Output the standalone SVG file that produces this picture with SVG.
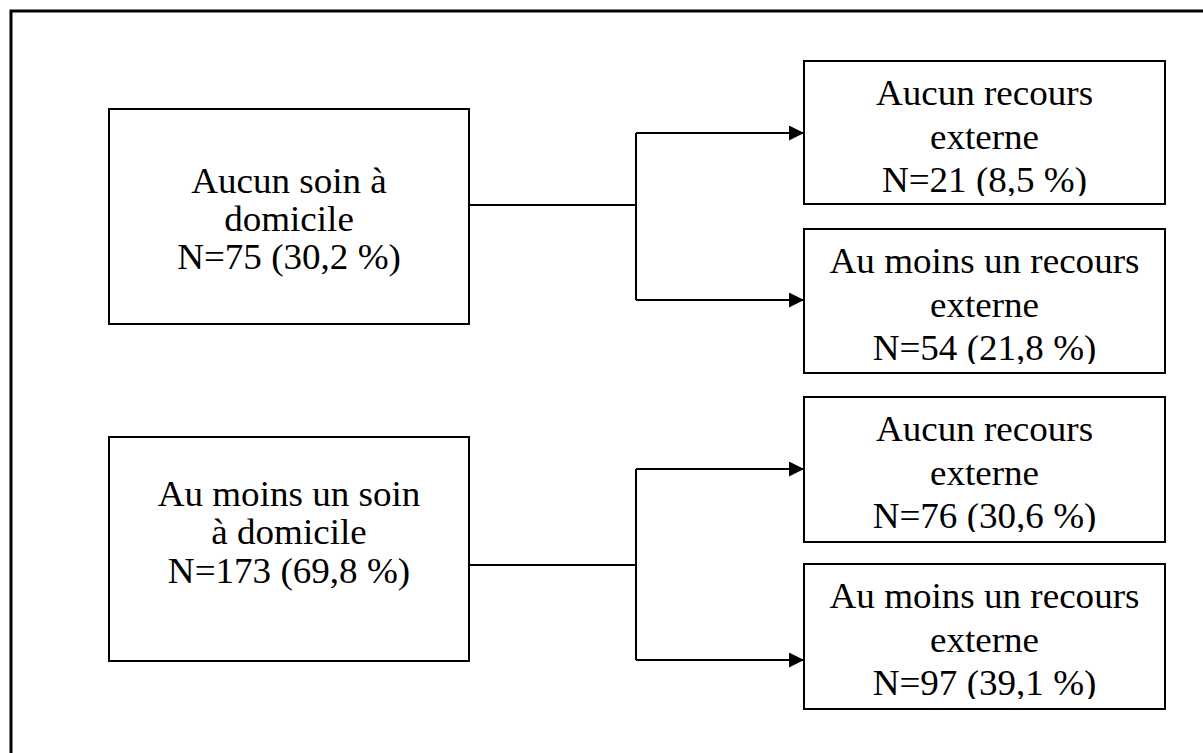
<svg xmlns="http://www.w3.org/2000/svg" width="1203" height="753" viewBox="0 0 1203 753">
<defs>
<style>
.box{fill:#fff;stroke:#000;stroke-width:2}
.t{font-family:"Liberation Serif","Times New Roman",serif;font-size:36px;fill:#000;text-anchor:middle}
.c{fill:none;stroke:#000;stroke-width:2}
</style>
<marker id="ah" markerWidth="15" markerHeight="15" refX="15" refY="7.5" orient="auto" markerUnits="userSpaceOnUse">
<path d="M0,0 L15,7.5 L0,15 Z" fill="#000"/>
</marker>
<clipPath id="k3"><rect x="804" y="61" width="361" height="135"/></clipPath>
<clipPath id="k4"><rect x="804" y="229" width="361" height="135"/></clipPath>
<clipPath id="k5"><rect x="804" y="397" width="361" height="135"/></clipPath>
<clipPath id="k6"><rect x="804" y="564" width="361" height="135"/></clipPath>
</defs>
<rect width="1203" height="753" fill="#fff"/>
<path d="M11,753 L11,11 L1203,11" fill="none" stroke="#000" stroke-width="3"/>
<g id="connectors">
<path class="c" d="M469,205 L636,205"/>
<path class="c" d="M636,133 L636,300"/>
<path class="c" d="M636,133 L804,133" marker-end="url(#ah)"/>
<path class="c" d="M636,300 L804,300" marker-end="url(#ah)"/>
<path class="c" d="M469,565 L636,565"/>
<path class="c" d="M636,469 L636,660"/>
<path class="c" d="M636,469 L804,469" marker-end="url(#ah)"/>
<path class="c" d="M636,660 L804,660" marker-end="url(#ah)"/>
</g>
<g id="n1">
<rect class="box" x="109" y="109" width="360" height="215"/>
<text class="t" transform="translate(289,193) scale(1.03,1)">Aucun soin à</text>
<text class="t" transform="translate(289,231) scale(1.03,1)">domicile</text>
<text class="t" transform="translate(289,269) scale(1.03,1)">N=75 (30,2 %)</text>
</g>
<g id="n2">
<rect class="box" x="109" y="437" width="360" height="224"/>
<text class="t" transform="translate(289,506) scale(1.03,1)">Au moins un soin</text>
<text class="t" transform="translate(289,544) scale(1.03,1)">à domicile</text>
<text class="t" transform="translate(289,583) scale(1.03,1)">N=173 (69,8 %)</text>
</g>
<g id="n3">
<rect class="box" x="804" y="61" width="361" height="143"/>
<g clip-path="url(#k3)">
<text class="t" transform="translate(984.5,105) scale(1.03,1)">Aucun recours</text>
<text class="t" transform="translate(984.5,149) scale(1.03,1)">externe</text>
<text class="t" transform="translate(984.5,192) scale(1.03,1)">N=21 (8,5 %)</text>
</g>
</g>
<g id="n4">
<rect class="box" x="804" y="229" width="361" height="144"/>
<g clip-path="url(#k4)">
<text class="t" transform="translate(984.5,273) scale(1.03,1)">Au moins un recours</text>
<text class="t" transform="translate(984.5,317) scale(1.03,1)">externe</text>
<text class="t" transform="translate(984.5,360) scale(1.03,1)">N=54 (21,8 %)</text>
</g>
</g>
<g id="n5">
<rect class="box" x="804" y="397" width="361" height="145"/>
<g clip-path="url(#k5)">
<text class="t" transform="translate(984.5,441) scale(1.03,1)">Aucun recours</text>
<text class="t" transform="translate(984.5,485) scale(1.03,1)">externe</text>
<text class="t" transform="translate(984.5,528) scale(1.03,1)">N=76 (30,6 %)</text>
</g>
</g>
<g id="n6">
<rect class="box" x="804" y="564" width="361" height="145"/>
<g clip-path="url(#k6)">
<text class="t" transform="translate(984.5,608) scale(1.03,1)">Au moins un recours</text>
<text class="t" transform="translate(984.5,652) scale(1.03,1)">externe</text>
<text class="t" transform="translate(984.5,695) scale(1.03,1)">N=97 (39,1 %)</text>
</g>
</g>
</svg>
